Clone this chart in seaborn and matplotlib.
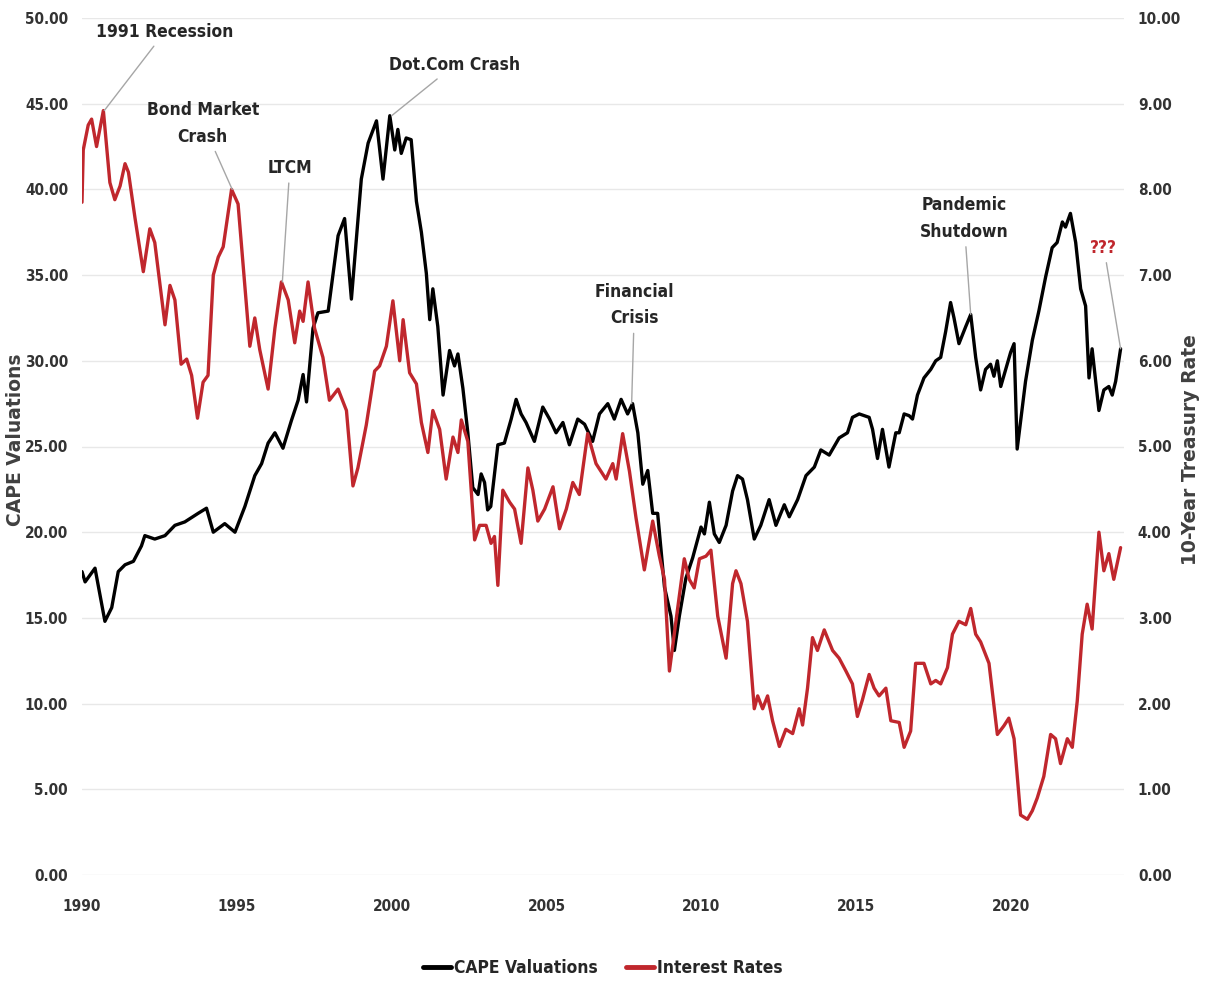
import matplotlib.pyplot as plt
import pandas as pd
import seaborn as sns

# CAPE valuations (left axis)
cape_years = [1990.0, 1990.1, 1990.42, 1990.74, 1990.96, 1991.17, 1991.39, 1991.66, 1991.92, 1992.03,
              1992.35, 1992.68, 1993.0, 1993.32, 1993.75, 1994.02, 1994.24, 1994.61, 1994.94, 1995.26,
              1995.58, 1995.8, 1996.01, 1996.23, 1996.49, 1996.76, 1996.98, 1997.14, 1997.25, 1997.46,
              1997.62, 1997.95, 1998.27, 1998.48, 1998.7, 1999.02, 1999.24, 1999.51, 1999.72, 1999.94,
              2000.1, 2000.2, 2000.31, 2000.47, 2000.63, 2000.8, 2000.96, 2001.12, 2001.23, 2001.33,
              2001.49, 2001.66, 2001.87, 2002.03, 2002.14, 2002.3, 2002.46, 2002.62, 2002.79, 2002.89,
              2003.0, 2003.1, 2003.2, 2003.43, 2003.64, 2003.86, 2004.02, 2004.18, 2004.34, 2004.61,
              2004.88, 2005.1, 2005.31, 2005.53, 2005.74, 2006.01, 2006.23, 2006.49, 2006.71, 2006.98,
              2007.19, 2007.41, 2007.62, 2007.78, 2007.95, 2008.11, 2008.27, 2008.43, 2008.59, 2008.81,
              2009.02, 2009.13, 2009.29, 2009.5, 2009.72, 2009.99, 2010.1, 2010.26, 2010.42, 2010.58,
              2010.8, 2011.01, 2011.17, 2011.33, 2011.49, 2011.71, 2011.92, 2012.19, 2012.41, 2012.68,
              2012.84, 2013.11, 2013.38, 2013.65, 2013.86, 2014.13, 2014.45, 2014.72, 2014.88, 2015.1,
              2015.42, 2015.53, 2015.69, 2015.85, 2016.06, 2016.28, 2016.39, 2016.55, 2016.71, 2016.82,
              2016.98, 2017.19, 2017.41, 2017.57, 2017.73, 2017.89, 2018.05, 2018.16, 2018.32, 2018.54,
              2018.7, 2018.86, 2019.02, 2019.18, 2019.34, 2019.45, 2019.56, 2019.67, 2019.83, 2019.99,
              2020.1, 2020.2, 2020.47, 2020.69, 2020.9, 2021.12, 2021.33, 2021.49, 2021.66, 2021.76,
              2021.92, 2022.09, 2022.25, 2022.41, 2022.52, 2022.62, 2022.73, 2022.84, 2023.0, 2023.16,
              2023.27, 2023.38, 2023.54]
cape_values = [17.7, 17.1, 17.9, 14.8, 15.6, 17.7, 18.1, 18.3, 19.2, 19.8,
               19.6, 19.8, 20.4, 20.6, 21.1, 21.4, 20.0, 20.5, 20.0, 21.5,
               23.3, 24.0, 25.2, 25.8, 24.9, 26.5, 27.7, 29.2, 27.6, 31.9,
               32.8, 32.9, 37.3, 38.3, 33.6, 40.6, 42.7, 44.0, 40.6, 44.3,
               42.3, 43.5, 42.1, 43.0, 42.9, 39.3, 37.5, 35.1, 32.4, 34.2,
               32.0, 28.0, 30.6, 29.7, 30.4, 28.4, 25.8, 22.6, 22.2, 23.4,
               22.9, 21.3, 21.5, 25.1, 25.2, 26.6, 27.75, 26.9, 26.4, 25.3,
               27.3, 26.6, 25.8, 26.4, 25.1, 26.6, 26.3, 25.3, 26.9, 27.5,
               26.6, 27.75, 26.9, 27.5, 25.8, 22.8, 23.6, 21.1, 21.1, 16.8,
               15.1, 13.1, 15.1, 17.3, 18.5, 20.3, 19.9, 21.75, 19.9, 19.4,
               20.4, 22.4, 23.3, 23.1, 21.9, 19.6, 20.4, 21.9, 20.4, 21.6,
               20.9, 21.9, 23.3, 23.8, 24.8, 24.5, 25.5, 25.8, 26.7, 26.9,
               26.7, 26.0, 24.3, 26.0, 23.8, 25.8, 25.8, 26.9, 26.8, 26.6,
               28.0, 29.0, 29.5, 30.0, 30.2, 31.7, 33.4, 32.5, 31.0, 32.0,
               32.7, 30.2, 28.3, 29.5, 29.8, 29.1, 30.0, 28.5, 29.5, 30.5,
               31.0, 24.85, 28.8, 31.2, 32.9, 34.9, 36.6, 36.9, 38.1, 37.8,
               38.6, 36.9, 34.2, 33.2, 29.0, 30.7, 28.9, 27.1, 28.3, 28.5,
               28.0, 28.8, 30.7]

# 10-year treasury rate (right axis)
rate_years = [1990.0, 1990.04, 1990.2, 1990.31, 1990.47, 1990.69, 1990.9, 1991.06, 1991.23, 1991.39,
              1991.5, 1991.71, 1991.98, 1992.19, 1992.35, 1992.68, 1992.84, 1993.0, 1993.2, 1993.38,
              1993.54, 1993.73, 1993.91, 1994.07, 1994.24, 1994.4, 1994.56, 1994.83, 1995.04, 1995.2,
              1995.42, 1995.58, 1995.74, 1996.01, 1996.23, 1996.44, 1996.66, 1996.87, 1997.03, 1997.14,
              1997.3, 1997.51, 1997.78, 1997.99, 1998.27, 1998.54, 1998.75, 1998.91, 1999.18, 1999.45,
              1999.61, 1999.83, 2000.04, 2000.26, 2000.37, 2000.58, 2000.8, 2000.96, 2001.17, 2001.33,
              2001.55, 2001.76, 2001.98, 2002.14, 2002.25, 2002.46, 2002.68, 2002.84, 2003.05, 2003.21,
              2003.32, 2003.43, 2003.59, 2003.81, 2003.97, 2004.18, 2004.4, 2004.56, 2004.72, 2004.94,
              2005.21, 2005.42, 2005.64, 2005.85, 2006.06, 2006.33, 2006.6, 2006.92, 2007.14, 2007.25,
              2007.46, 2007.68, 2007.89, 2008.16, 2008.43, 2008.64, 2008.81, 2008.97, 2009.18, 2009.45,
              2009.61, 2009.77, 2009.94, 2010.15, 2010.31, 2010.53, 2010.8, 2011.01, 2011.12, 2011.28,
              2011.49, 2011.71, 2011.82, 2011.98, 2012.14, 2012.3, 2012.52, 2012.73, 2012.95, 2013.16,
              2013.27, 2013.43, 2013.59, 2013.75, 2013.97, 2014.24, 2014.45, 2014.67, 2014.88, 2015.04,
              2015.2, 2015.42, 2015.58, 2015.74, 2015.96, 2016.12, 2016.39, 2016.55, 2016.76, 2016.92,
              2017.19, 2017.41, 2017.57, 2017.73, 2017.95, 2018.11, 2018.32, 2018.54, 2018.7, 2018.86,
              2019.02, 2019.29, 2019.56, 2019.77, 2019.93, 2020.1, 2020.31, 2020.53, 2020.69, 2020.85,
              2021.06, 2021.28, 2021.44, 2021.6, 2021.82, 2021.98, 2022.14, 2022.3, 2022.46, 2022.62,
              2022.84, 2023.0, 2023.16, 2023.32, 2023.54]
rate_values = [7.85, 8.46, 8.75, 8.82, 8.5, 8.92, 8.08, 7.88, 8.04, 8.3,
               8.2, 7.67, 7.04, 7.54, 7.38, 6.42, 6.88, 6.71, 5.96, 6.02,
               5.83, 5.33, 5.75, 5.83, 7.0, 7.21, 7.33, 8.0, 7.83, 7.13,
               6.17, 6.5, 6.13, 5.67, 6.38, 6.92, 6.71, 6.21, 6.58, 6.46,
               6.92, 6.38, 6.04, 5.54, 5.67, 5.42, 4.54, 4.75, 5.25, 5.88,
               5.94, 6.17, 6.7, 6.0, 6.48, 5.86, 5.73, 5.28, 4.93, 5.42,
               5.2, 4.62, 5.11, 4.93, 5.31, 5.06, 3.91, 4.08, 4.08, 3.87,
               3.95, 3.38, 4.49, 4.35, 4.27, 3.87, 4.75, 4.49, 4.13, 4.27,
               4.53, 4.04, 4.27, 4.58, 4.44, 5.15, 4.8, 4.62, 4.8, 4.62,
               5.15, 4.71, 4.17, 3.56, 4.13, 3.73, 3.45, 2.38, 2.96, 3.69,
               3.45, 3.35, 3.69, 3.72, 3.79, 3.02, 2.53, 3.4, 3.55, 3.4,
               2.96, 1.94, 2.09, 1.94, 2.09, 1.8, 1.5, 1.7, 1.65, 1.94,
               1.75, 2.18, 2.77, 2.62, 2.86, 2.62, 2.53, 2.38, 2.23, 1.85,
               2.04, 2.34, 2.18, 2.09, 2.18, 1.8, 1.78, 1.49, 1.68, 2.47,
               2.47, 2.23, 2.27, 2.23, 2.42, 2.81, 2.96, 2.92, 3.11, 2.81,
               2.72, 2.47, 1.64, 1.74, 1.83, 1.59, 0.7, 0.65, 0.75, 0.9,
               1.15, 1.64, 1.59, 1.3, 1.59, 1.49, 2.03, 2.81, 3.16, 2.87,
               4.0, 3.55, 3.75, 3.45, 3.82]

year_ticks = [1990, 1995, 2000, 2005, 2010, 2015, 2020]
cape_ticks = [0, 5, 10, 15, 20, 25, 30, 35, 40, 45, 50]
rate_ticks = [0, 1, 2, 3, 4, 5, 6, 7, 8, 9, 10]

red = "#c0272d"
W, H = 1206, 985

sns.set_style("white")
plt.rcParams["font.family"] = ["DejaVu Sans"]
plt.rcParams["font.stretch"] = "condensed"
plt.rcParams["font.weight"] = "bold"

cape = pd.DataFrame({"Year": cape_years, "CAPE": cape_values})
rates = pd.DataFrame({"Year": rate_years, "Rate": rate_values})

fig = plt.figure(figsize=(W / 100, H / 100), dpi=100)
ax = fig.add_axes([82 / W, 110 / H, (1124 - 82) / W, (875 - 18) / H])
ax2 = ax.twinx()

sns.lineplot(data=cape, x="Year", y="CAPE", ax=ax, color="black", lw=2.4, legend=False)
sns.lineplot(data=rates, x="Year", y="Rate", ax=ax2, color=red, lw=2.4, legend=False)

ax.set_xlim(1990, 2023.65)
ax.set_ylim(0, 50)
ax2.set_ylim(0, 10)
ax.set_xticks(year_ticks)
ax.set_yticks(cape_ticks)
ax.set_yticklabels([f"{v:.2f}" for v in cape_ticks])
ax2.set_yticks(rate_ticks)
ax2.set_yticklabels([f"{v:.2f}" for v in rate_ticks])
for a in (ax, ax2):
    a.set_xlabel("")
    a.set_ylabel("")
    for s in a.spines.values():
        s.set_visible(False)
ax.tick_params(axis="x", length=0, pad=17, labelsize=11, labelcolor="#333333")
ax.tick_params(axis="y", length=0, pad=10, labelsize=11, labelcolor="#333333")
ax2.tick_params(axis="y", length=0, pad=10, labelsize=11, labelcolor="#333333")
ax.yaxis.grid(True, color="#e8e8e8", lw=1)
ax.set_axisbelow(True)

fig.text(16 / W, 1 - 440 / H, "CAPE Valuations", rotation=90, ha="center", va="center",
         fontstretch="normal", fontsize=13.5, color="#404040")
fig.text(1190 / W, 1 - 450 / H, "10-Year Treasury Rate", rotation=90, ha="center", va="center",
         fontstretch="normal", fontsize=13.5, color="#404040")

arrow = dict(arrowstyle="-", color="#a6a6a6", lw=1, shrinkA=2, shrinkB=0)
note = dict(ha="center", va="center", fontsize=12.5, color="#262626", linespacing=1.6, arrowprops=arrow)
ax2.annotate("1991 Recession", xy=(1990.72, 8.92), xytext=(1992.68, 9.84), **note)
ax2.annotate("Bond Market\nCrash", xy=(1994.85, 8.0), xytext=(1993.9, 8.77), **note)
ax2.annotate("LTCM", xy=(1996.47, 6.92), xytext=(1996.71, 8.25), **note)
ax.annotate("Dot.Com Crash", xy=(2000.0, 44.3), xytext=(2002.03, 47.26), **note)
ax.annotate("Financial\nCrisis", xy=(2007.75, 27.5), xytext=(2007.84, 33.25), **note)
ax.annotate("Pandemic\nShutdown", xy=(2018.7, 32.7), xytext=(2018.48, 38.3), **note)
ax.annotate("???", xy=(2023.54, 30.7), xytext=(2023.0, 36.6),
            **{**note, "color": red})

handles = [plt.Line2D([], [], color="black", lw=3.5), plt.Line2D([], [], color=red, lw=3.5)]
fig.legend(handles, ["CAPE Valuations", "Interest Rates"], loc="center",
           bbox_to_anchor=(603 / W, 1 - 968 / H), ncol=2, frameon=False, fontsize=12.5,
           handlelength=1.6, handletextpad=0.2, columnspacing=1.6)

fig.savefig("out.png", dpi=100)
